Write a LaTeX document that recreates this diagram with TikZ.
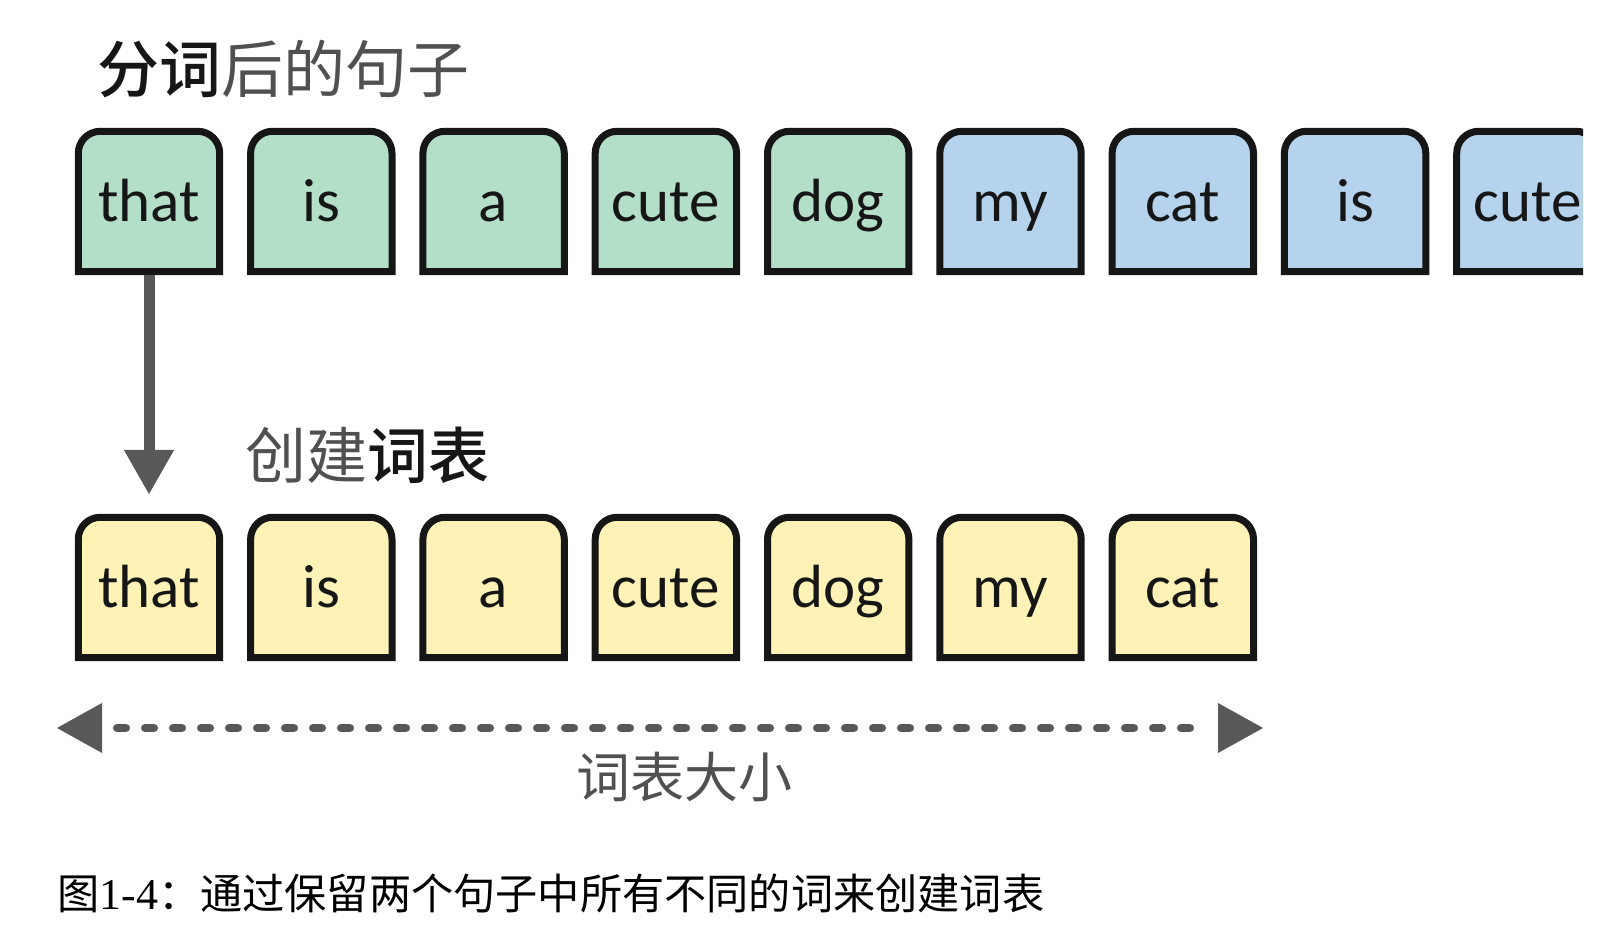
\documentclass[tikz,border=0pt]{standalone}
\usepackage{fontspec}
\usetikzlibrary{arrows.meta,backgrounds}
\newfontfamily\cjk{Noto Sans CJK SC}
\newfontfamily\cjkmed{Noto Sans CJK SC}[UprightFont={* Medium}]
\newfontfamily\wordf{Carlito}
\newfontfamily\serifnum{Liberation Serif}
\definecolor{greenC}{RGB}{179,222,200}
\definecolor{blueC}{RGB}{181,211,236}
\definecolor{yellowC}{RGB}{254,242,182}
\definecolor{arrowgray}{RGB}{88,88,88}
\definecolor{titlegray}{RGB}{80,80,80}
\definecolor{inkC}{RGB}{22,22,22}
\tikzset{
  x=1pt, y=1pt,
  word/.style={minimum width=141pt, minimum height=140pt, inner sep=0pt,
    text height=45pt, text depth=4pt, text=inkC,
    font=\wordf\fontsize{61}{61}\selectfont},
  cellline/.style={draw=inkC, line width=7pt, line join=miter},
  txtlbl/.style={inner sep=0pt, anchor=base west},
  vline/.style={draw=arrowgray, line width=11pt,
    -{Triangle[length=45pt,width=47pt]}},
  dline/.style={draw=arrowgray, line width=8pt, line cap=round,
    dash pattern=on 9pt off 19pt},
  headfill/.style={fill=arrowgray},
}
\newcommand\cellat[2]{%
  \filldraw[cellline, fill=#2] (#1.south west)
    -- ([yshift=-22pt]#1.north west)
    arc[start angle=180,end angle=90,radius=22pt]
    -- ([xshift=-22pt]#1.north east)
    arc[start angle=90,end angle=0,radius=22pt]
    -- (#1.south east) -- cycle;}
\begin{document}
\begin{tikzpicture}
\useasboundingbox (0,0) rectangle (1624,936);
% titles
\node[txtlbl, font=\cjk\fontsize{62}{62}\selectfont] (title) at (97,843)
  {\textcolor{inkC}{\cjkmed 分词}\textcolor{titlegray}{后的句子}};
\node[txtlbl, font=\cjk\fontsize{61}{61}\selectfont] (vocabtitle) at (245,457)
  {\textcolor{titlegray}{创建}\textcolor{inkC}{\cjkmed 词表}};
% top row
\node[word] (t1) at (149,734.5) {that};
\node[word] (t2) at (321.3,734.5) {is};
\node[word] (t3) at (493.6,734.5) {a};
\node[word] (t4) at (665.9,734.5) {cute};
\node[word] (t5) at (838.2,734.5) {dog};
\node[word] (t6) at (1010.5,734.5) {my};
\node[word] (t7) at (1182.8,734.5) {cat};
\node[word] (t8) at (1355.1,734.5) {is};
\begin{scope}
  \clip (0,0) rectangle (1583,936);
  \node[word] (t9) at (1527.4,734.5) {cute};
\end{scope}
% bottom row
\node[word] (v1) at (149,348.5) {that};
\node[word] (v2) at (321.3,348.5) {is};
\node[word] (v3) at (493.6,348.5) {a};
\node[word] (v4) at (665.9,348.5) {cute};
\node[word] (v5) at (838.2,348.5) {dog};
\node[word] (v6) at (1010.5,348.5) {my};
\node[word] (v7) at (1182.8,348.5) {cat};
\begin{pgfonlayer}{background}
  \foreach \n in {t1,t2,t3,t4,t5} {\cellat{\n}{greenC}}
  \foreach \n in {t6,t7,t8} {\cellat{\n}{blueC}}
  \begin{scope}
    \clip (0,0) rectangle (1583,936);
    \cellat{t9}{blueC}
  \end{scope}
  \foreach \n in {v1,v2,v3,v4,v5,v6,v7} {\cellat{\n}{yellowC}}
\end{pgfonlayer}
% vertical arrow
\draw[vline] ([yshift=-3.5pt]t1.south) -- ([yshift=22.5pt]v1.north);
% vocabulary size arrow
\coordinate (L) at (57,208);
\coordinate (R) at (1263,208);
\draw[dline] ([xshift=60pt]L) -- ([xshift=-60pt]R);
\fill[headfill] (L) -- ++(45,25) -- ++(0,-50) -- cycle;
\fill[headfill] (R) -- ++(-45,25) -- ++(0,-50) -- cycle;
\node[txtlbl, font=\cjk\fontsize{54}{54}\selectfont, text=titlegray] (size) at (576,138) {词表大小};
% caption
\node[txtlbl, font=\cjk\fontsize{42.2}{42.2}\selectfont, text=black] (caption) at (57,26)
  {图{\serifnum\fontsize{44}{44}\selectfont 1-4}：通过保留两个句子中所有不同的词来创建词表};
\end{tikzpicture}
\end{document}
